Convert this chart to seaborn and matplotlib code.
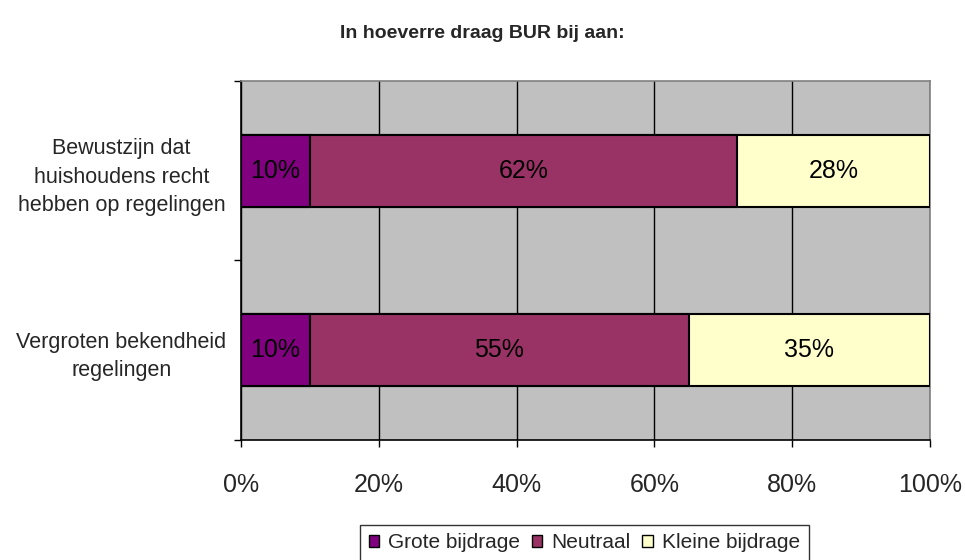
import matplotlib
matplotlib.use("Agg")
import matplotlib.pyplot as plt
import matplotlib.patches as mpatches
import seaborn as sns
import pandas as pd
import numpy as np

# data
categories = ["Bewustzijn dat\nhuishoudens recht\nhebben op regelingen",
              "Vergroten bekendheid\nregelingen"]
series = ["Grote bijdrage", "Neutraal", "Kleine bijdrage"]
grote = [10, 10]
neutraal = [62, 55]
kleine = [28, 35]
colors = ["#800080", "#993366", "#FFFFCC"]

sns.set_style("white")
plt.rcParams["font.family"] = ["Liberation Sans", "DejaVu Sans"]

df = pd.DataFrame({"cat": categories, "Grote bijdrage": grote,
                   "Neutraal": neutraal, "Kleine bijdrage": kleine})
# cumulative ends for overlaid (stacked-looking) bars
cum = df[series].cumsum(axis=1)

fig = plt.figure(figsize=(9.65, 5.6), dpi=100)
ax = fig.add_axes([0.2497, 0.2143, 0.7140, 0.6411])
ax.set_facecolor("#C0C0C0")

for s, c in reversed(list(zip(series, colors))):
    sns.barplot(data=pd.DataFrame({"cat": categories, "v": cum[s]}), x="v", y="cat",
                orient="h", width=0.4, color=c, edgecolor="black", linewidth=1.5,
                ax=ax, zorder=3, saturation=1)

# value labels centred on each segment
for i in range(len(categories)):
    start = 0
    for s in series:
        v = df.loc[i, s]
        ax.text(start + v / 2, i, f"{v}%", ha="center", va="center",
                fontsize=18, color="black", zorder=4)
        start += v

ax.set_xlim(0, 100)
ax.set_ylim(1.5, -0.5)
ax.set_xticks(np.arange(0, 101, 20))
ax.set_xticklabels([f"{t}%" for t in range(0, 101, 20)], fontsize=18)
ax.tick_params(axis="x", bottom=True, direction="out", length=5, width=1,
               color="black", pad=19)
ax.xaxis.grid(True, color="black", linewidth=1, zorder=0)
ax.set_axisbelow(True)

ax.set_yticks([0, 1])
ax.set_yticklabels(categories, fontsize=15.5, ha="center", linespacing=1.48)
ax.tick_params(axis="y", which="major", left=True, length=0, pad=86)
ax.set_yticks([-0.5, 0.5, 1.5], minor=True)
ax.tick_params(axis="y", which="minor", left=True, direction="out",
               length=5, width=1, color="black")
ax.set_xlabel("")
ax.set_ylabel("")

for side in ["left", "bottom"]:
    ax.spines[side].set_color("black")
    ax.spines[side].set_linewidth(1.2)
for side in ["top", "right"]:
    ax.spines[side].set_color("#808080")
    ax.spines[side].set_linewidth(1.2)

fig.text(0.5, 0.941, "In hoeverre draag BUR bij aan:", ha="center", va="center",
         fontsize=14, fontweight="bold")

handles = [mpatches.Patch(facecolor=c, edgecolor="black", label=s) for s, c in zip(series, colors)]
leg = fig.legend(handles=handles, loc="upper center", bbox_to_anchor=(0.6057, 0.0625), ncol=3,
                 frameon=True, fancybox=False, fontsize=15, handlelength=0.5,
                 handleheight=0.5, handletextpad=0.45, columnspacing=0.55,
                 borderpad=0.4, borderaxespad=0)
leg.get_frame().set_edgecolor("black")
leg.get_frame().set_linewidth(1)

fig.savefig("out.png", dpi=100)
